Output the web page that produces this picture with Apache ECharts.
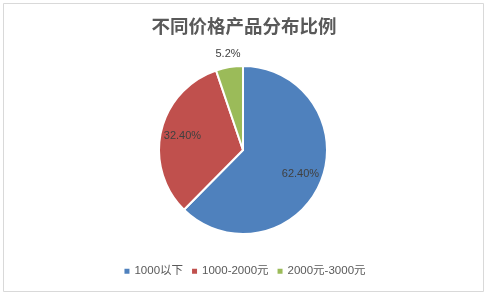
<!DOCTYPE html>
<html>
<head>
<meta charset="utf-8">
<script src="https://cdn.jsdelivr.net/npm/echarts@6/dist/echarts.min.js"></script>
<style>html,body{margin:0;padding:0;background:#fff;}#c{width:488px;height:297px;}</style>
</head>
<body>
<div id="c"></div>
<script>
var categories = ['1000以下', '1000-2000元', '2000元-3000元'];
var values = [62.4, 32.4, 5.2];
var labelTexts = ['62.40%', '32.40%', '5.2%'];
var colors = ['#4F81BD', '#C0504D', '#9BBB59'];

var chart = echarts.init(document.getElementById('c'), null, {renderer: 'canvas'});
var CX = 243, CY = 150, R = 84;
var data = categories.map(function (c, i) {
  var item = {name: c, value: values[i], itemStyle: {color: colors[i]}};
  if (i === 2) {
    item.label = {position: 'outside', distanceToLabelLine: 0};
    item.labelLine = {show: false, length: 8, length2: 0};
  } else {
    item.label = {position: 'inside'};
  }
  return item;
});
chart.setOption({
  animation: false,
  backgroundColor: '#fff',
  graphic: [{
    type: 'rect', z: -10, silent: true,
    shape: {x: 3.5, y: 3.5, width: 480, height: 288},
    style: {fill: '#fff', stroke: '#d9d9d9', lineWidth: 1}
  }],
  title: {
    text: '不同价格产品分布比例',
    left: 'center', top: 12,
    textStyle: {fontSize: 18.5, fontWeight: 'bold', color: '#595959', fontFamily: 'Noto Sans CJK SC'}
  },
  legend: {
    bottom: 15, left: 'center',
    itemWidth: 7, itemHeight: 7, itemGap: 7,
    icon: 'rect',
    textStyle: {fontSize: 11.5, color: '#595959', fontFamily: 'Liberation Sans, Noto Sans CJK SC', padding: [0, 0, 0, -1]},
    data: categories
  },
  series: [{
    type: 'pie',
    center: [CX, CY],
    radius: R,
    startAngle: 90,
    clockwise: true,
    avoidLabelOverlap: false,
    itemStyle: {borderColor: '#fff', borderWidth: 2},
    label: {
      show: true,
      formatter: function (p) { return labelTexts[p.dataIndex]; },
      fontSize: 11, color: '#404040', fontFamily: 'Liberation Sans, Noto Sans CJK SC'
    },
    labelLayout: function (p) {
      var r = p.labelRect;
      if (p.dataIndex === 2) {
        return {align: 'center', verticalAlign: 'bottom'};
      }
      var mx = r.x + r.width / 2, my = r.y + r.height / 2;
      var k = 0.38;
      return {dx: (mx - CX) * k, dy: (my - CY) * k};
    },
    emphasis: {disabled: true},
    data: data
  }]
});
</script>
</body>
</html>
